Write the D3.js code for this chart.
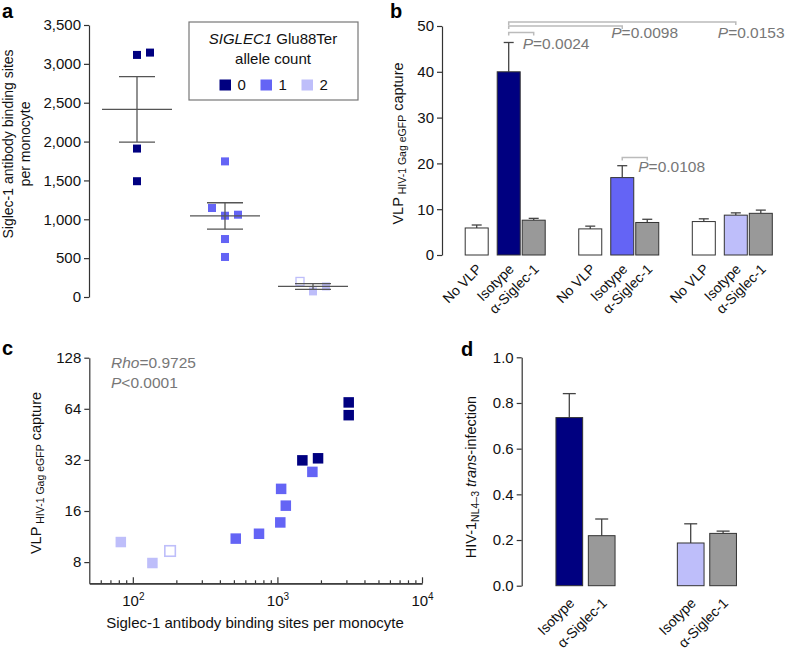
<!DOCTYPE html>
<html><head><meta charset="utf-8">
<script src="https://cdn.jsdelivr.net/npm/d3@7"></script>
<style>
body{margin:0;background:#fff;}
svg{font-family:"Liberation Sans",Arial,Helvetica,sans-serif;}
</style></head><body>
<svg id="chart" width="788" height="651"></svg>
<script>
// ---------------- DATA ----------------
const alleleCounts = ["0", "1", "2"];

// panel a: Siglec-1 antibody binding sites per monocyte, by allele count
const bindingSites0 = [3115, 3145, 1910, 1490];
const bindingSites1 = [1745, 1046, 1059, 1145, 746, 515];
const bindingSites2 = [72, 136, 200];
const bindingOpen2 = [false, false, true];
const siteTicks = [0, 500, 1000, 1500, 2000, 2500, 3000, 3500];

// panel b: VLP capture
const captureConditions = ["No VLP", "Isotype", "α-Siglec-1"];
const captureMean0 = [5.9, 40.0, 7.6];
const captureMean1 = [5.7, 16.9, 7.1];
const captureMean2 = [7.3, 8.7, 9.1];
const captureErr0 = [0.65, 6.4, 0.4];
const captureErr1 = [0.6, 2.6, 0.7];
const captureErr2 = [0.6, 0.5, 0.7];
const captureTicks = [0, 10, 20, 30, 40, 50];
const captureP = ["0.0024", "0.0098", "0.0153", "0.0108"];

// panel c: correlation
const corrSites0 = [1488, 1910, 3112, 3112];
const corrCapture0 = [31.8, 32.7, 69.8, 58.7];
const corrSites1 = [515, 746, 1047, 1143, 1061, 1745];
const corrCapture1 = [11.0, 11.75, 13.7, 17.2, 21.6, 27.2];
const corrSites2 = [82.6, 136.6, 181];
const corrCapture2 = [10.5, 7.9, 9.3];
const corrOpen2 = [false, false, true];
const corrYTicks = [8, 16, 32, 64, 128];
const corrXTicks = [100, 1000, 10000];
const corrRho = "0.9725";
const corrP = "0.0001";

// panel d: trans-infection
const transGroups = ["0", "2"];
const transConditions = ["Isotype", "α-Siglec-1"];
const transMean0 = [0.736, 0.219];
const transMean2 = [0.187, 0.229];
const transErr0 = [0.105, 0.073];
const transErr2 = [0.084, 0.010];
const transTicks = [0, 0.2, 0.4, 0.6, 0.8, 1.0];

// ---------------- STYLE ----------------
const FONT = "Liberation Sans, Arial, Helvetica, sans-serif";
const AXC = "#333";
const color = d3.scaleOrdinal(alleleCounts, ["#000080", "#6464f5", "#bebefa"]);
const GRAY = "#999999";
const ANNO = "#777";
const svg = d3.select("#chart");

function styleAxis(g, fs = 15) {
  g.attr("font-size", fs).attr("font-family", FONT);
  g.selectAll("path,line").attr("stroke", AXC).attr("stroke-width", 1.2);
  g.selectAll("text").attr("fill", "#111");
}
function panelLabel(t, x, y) {
  svg.append("text").attr("x", x).attr("y", y).attr("font-size", 20)
    .attr("font-weight", "bold").attr("fill", "#000").text(t);
}

// ---------------- PANEL A ----------------
panelLabel("a", 2, 18);
const yA = d3.scaleLinear().domain([0, 3500]).range([297, 25]);
const xA = d3.scalePoint().domain(alleleCounts).range([137, 313]);
svg.append("g").attr("transform", "translate(89,0)")
  .call(d3.axisLeft(yA).tickValues(siteTicks).tickFormat(d3.format(",")).tickSize(5).tickSizeOuter(0).tickPadding(3))
  .call(styleAxis);

svg.append("text").attr("transform", "translate(13,144) rotate(-90)")
  .attr("text-anchor", "middle").attr("font-size", 14).attr("fill", "#111")
  .text("Siglec-1 antibody binding sites");
svg.append("text").attr("transform", "translate(30,144) rotate(-90)")
  .attr("text-anchor", "middle").attr("font-size", 14).attr("fill", "#111")
  .text("per monocyte");

function dodge(values, y, step = 13, thr = 11) {
  const placed = [];
  return values.map(v => {
    const py = y(v);
    let off = 0;
    for (const c of [0, step, -step, 2 * step, -2 * step]) {
      if (!placed.some(p => Math.abs(p.y - py) < thr && Math.abs(p.x - c) < thr)) { off = c; break; }
    }
    placed.push({ x: off, y: py });
    return off;
  });
}

const groupsA = [
  { key: "0", vals: bindingSites0, open: bindingSites0.map(() => false) },
  { key: "1", vals: bindingSites1, open: bindingSites1.map(() => false) },
  { key: "2", vals: bindingSites2, open: bindingOpen2 }
];
const gA = svg.append("g");
groupsA.forEach(gr => {
  const cx = xA(gr.key);
  const n = gr.vals.length;
  const mean = d3.mean(gr.vals);
  const sem = d3.deviation(gr.vals) / Math.sqrt(n);
  const offs = dodge(gr.vals, yA);
  const sz = 8;
  gr.vals.forEach((v, i) => {
    gA.append("rect")
      .attr("x", cx + offs[i] - sz / 2).attr("y", yA(v) - sz / 2)
      .attr("width", sz).attr("height", sz)
      .attr("fill", gr.open[i] ? "#fff" : color(gr.key))
      .attr("stroke", gr.open[i] ? color(gr.key) : "none")
      .attr("stroke-width", 1.3);
  });
  const lc = "#555";
  gA.append("line").attr("x1", cx - 35).attr("x2", cx + 35).attr("y1", yA(mean)).attr("y2", yA(mean)).attr("stroke", lc).attr("stroke-width", 1.3);
  gA.append("line").attr("x1", cx).attr("x2", cx).attr("y1", yA(mean - sem)).attr("y2", yA(mean + sem)).attr("stroke", lc).attr("stroke-width", 1.3);
  [mean - sem, mean + sem].forEach(v => {
    gA.append("line").attr("x1", cx - 18).attr("x2", cx + 18).attr("y1", yA(v)).attr("y2", yA(v)).attr("stroke", lc).attr("stroke-width", 1.3);
  });
});

// legend
const lg = svg.append("g");
lg.append("rect").attr("x", 189).attr("y", 22).attr("width", 169).attr("height", 78)
  .attr("fill", "#fff").attr("stroke", "#777").attr("stroke-width", 1.2);
const lt1 = lg.append("text").attr("x", 273).attr("y", 44).attr("text-anchor", "middle").attr("font-size", 15).attr("fill", "#111");
lt1.append("tspan").attr("font-style", "italic").text("SIGLEC1");
lt1.append("tspan").text(" Glu88Ter");
lg.append("text").attr("x", 273).attr("y", 63.5).attr("text-anchor", "middle").attr("font-size", 15).attr("fill", "#111").text("allele count");
const xLeg = d3.scalePoint().domain(alleleCounts).range([219.5, 301.5]);
alleleCounts.forEach(k => {
  lg.append("rect").attr("x", xLeg(k)).attr("y", 79.5).attr("width", 11.5).attr("height", 11).attr("fill", color(k));
  lg.append("text").attr("x", xLeg(k) + 18).attr("y", 90).attr("font-size", 15).attr("fill", "#111").text(k);
});

// ---------------- PANEL B ----------------
panelLabel("b", 390, 18);
const yB = d3.scaleLinear().domain([0, 50]).range([255, 26]);
const xBg = d3.scalePoint().domain(alleleCounts).range([476.7, 703.8]);
const xBc = d3.scaleOrdinal().domain(captureConditions).range([0, 32, 57]);
const bwB = 23;
svg.append("g").attr("transform", "translate(442,0)")
  .call(d3.axisLeft(yB).tickValues(captureTicks).tickSize(5).tickSizeOuter(0).tickPadding(3))
  .call(styleAxis);

const ylb = svg.append("text").attr("transform", "translate(403,143.5) rotate(-90)")
  .attr("text-anchor", "middle").attr("font-size", 14.5).attr("fill", "#111");
ylb.append("tspan").text("VLP");
ylb.append("tspan").attr("font-size", 10.5).attr("dy", 3).text(" HIV-1 Gag eGFP");
ylb.append("tspan").attr("dy", -3).text(" capture");

const capMeans = [captureMean0, captureMean1, captureMean2];
const capErrs = [captureErr0, captureErr1, captureErr2];
const gB = svg.append("g");
alleleCounts.forEach((k, gi) => {
  captureConditions.forEach((c, ci) => {
    const cx = xBg(k) + xBc(c);
    const m = capMeans[gi][ci], e = capErrs[gi][ci];
    const fill = ci === 0 ? "#fff" : (ci === 1 ? color(k) : GRAY);
    gB.append("line").attr("x1", cx).attr("x2", cx).attr("y1", yB(m)).attr("y2", yB(m + e)).attr("stroke", "#444").attr("stroke-width", 1.3);
    gB.append("line").attr("x1", cx - 5).attr("x2", cx + 5).attr("y1", yB(m + e)).attr("y2", yB(m + e)).attr("stroke", "#444").attr("stroke-width", 1.3);
    gB.append("rect").attr("x", cx - bwB / 2).attr("y", yB(m)).attr("width", bwB).attr("height", yB(0) - yB(m))
      .attr("fill", fill).attr("stroke", "#333").attr("stroke-width", 1);
    svg.append("text").attr("transform", `translate(${cx + 6},270) rotate(-45)`)
      .attr("text-anchor", "end").attr("font-size", 14).attr("fill", "#111").text(c);
  });
});

// significance brackets
function bracket(x1, x2, yv) {
  const y = yB(yv);
  gB.append("path").attr("d", `M${x1},${y + 3}V${y}H${x2}V${y + 3}`)
    .attr("fill", "none").attr("stroke", "#bbb").attr("stroke-width", 1.5);
}
function pText(x, y, val) {
  const t = svg.append("text").attr("x", x).attr("y", y).attr("font-size", 15.5).attr("fill", ANNO);
  t.append("tspan").attr("font-style", "italic").text("P");
  t.append("tspan").text("=" + val);
}
const iso0 = xBg("0") + xBc("Isotype");
const sig0 = xBg("0") + xBc("α-Siglec-1");
const iso1 = xBg("1") + xBc("Isotype");
const sig1 = xBg("1") + xBc("α-Siglec-1");
const iso2 = xBg("2") + xBc("Isotype");
bracket(iso0, sig0, 48.6);
bracket(iso0, iso1, 50.0);
bracket(iso0, iso2, 50.9);
bracket(iso1, sig1, 21.3);
pText(sig0 - 11, 49, captureP[0]);
pText(iso1 - 11, 38, captureP[1]);
pText(iso2 - 18, 38, captureP[2]);
pText(sig1 - 9, 172, captureP[3]);

// ---------------- PANEL C ----------------
panelLabel("c", 2, 355);
const xC = d3.scaleLog().domain([50, 10000]).range([89.3, 422]);
const yC = d3.scaleLog().base(2).domain([6, 128]).range([583.3, 357.7]);
svg.append("g").attr("transform", "translate(89.3,0)")
  .call(d3.axisLeft(yC).tickValues(corrYTicks).tickFormat(d3.format("d")).tickSize(5).tickSizeOuter(0).tickPadding(3))
  .call(styleAxis);
const minorTicks = [];
for (let dec = 10; dec < 10000; dec *= 10) for (let m = 2; m <= 9; m++) {
  const v = dec * m; if (v > 50 && v < 10000) minorTicks.push(v);
}
svg.append("g").attr("transform", "translate(0,583.3)")
  .call(d3.axisBottom(xC).tickValues(minorTicks).tickFormat("").tickSize(-3).tickSizeOuter(0))
  .call(styleAxis);
const xAxC = svg.append("g").attr("transform", "translate(0,583.3)")
  .call(d3.axisBottom(xC).tickValues(corrXTicks).tickSize(-6).tickSizeOuter(0).tickPadding(12))
  .call(styleAxis);
xAxC.selectAll(".tick text").each(function (d) {
  const t = d3.select(this);
  t.text("");
  t.append("tspan").text("10");
  t.append("tspan").attr("font-size", 10).attr("dy", -6).text(String(Math.round(Math.log10(d))));
});
svg.append("text").attr("x", 255).attr("y", 628).attr("text-anchor", "middle").attr("font-size", 15).attr("fill", "#111")
  .text("Siglec-1 antibody binding sites per monocyte");
const ylc = svg.append("text").attr("transform", "translate(41,473) rotate(-90)")
  .attr("text-anchor", "middle").attr("font-size", 14.5).attr("fill", "#111");
ylc.append("tspan").text("VLP");
ylc.append("tspan").attr("font-size", 10.5).attr("dy", 3).text(" HIV-1 Gag eGFP");
ylc.append("tspan").attr("dy", -3).text(" capture");

const rt = svg.append("text").attr("x", 111).attr("y", 368).attr("font-size", 15.5).attr("fill", ANNO);
rt.append("tspan").attr("font-style", "italic").text("Rho");
rt.append("tspan").text("=" + corrRho);
const pt = svg.append("text").attr("x", 111).attr("y", 388).attr("font-size", 15.5).attr("fill", ANNO);
pt.append("tspan").attr("font-style", "italic").text("P");
pt.append("tspan").text("<" + corrP);

const corrGroups = [
  { key: "2", xs: corrSites2, ys: corrCapture2, open: corrOpen2 },
  { key: "1", xs: corrSites1, ys: corrCapture1, open: corrSites1.map(() => false) },
  { key: "0", xs: corrSites0, ys: corrCapture0, open: corrSites0.map(() => false) }
];
const gC = svg.append("g");
corrGroups.forEach(gr => {
  gr.xs.forEach((xv, i) => {
    const s = 10.5;
    gC.append("rect").attr("x", xC(xv) - s / 2).attr("y", yC(gr.ys[i]) - s / 2).attr("width", s).attr("height", s)
      .attr("fill", gr.open[i] ? "#fff" : color(gr.key))
      .attr("stroke", gr.open[i] ? color(gr.key) : "none").attr("stroke-width", 1.6);
  });
});

// ---------------- PANEL D ----------------
panelLabel("d", 461, 356);
const yD = d3.scaleLinear().domain([0, 1]).range([585.7, 357.3]);
const xDg = d3.scalePoint().domain(transGroups).range([569.3, 690.7]);
const xDc = d3.scaleOrdinal().domain(transConditions).range([0, 32.4]);
const bwD = 26.7;
svg.append("g").attr("transform", "translate(521.7,0)")
  .call(d3.axisLeft(yD).tickValues(transTicks).tickFormat(d3.format(".1f")).tickSize(5).tickSizeOuter(0).tickPadding(3))
  .call(styleAxis);
const yld = svg.append("text").attr("transform", "translate(476,477) rotate(-90)")
  .attr("text-anchor", "middle").attr("font-size", 14.5).attr("fill", "#111");
yld.append("tspan").text("HIV-1");
yld.append("tspan").attr("font-size", 10.5).attr("dy", 3).text("NL4–3");
yld.append("tspan").attr("dy", -3).text(" ");
yld.append("tspan").attr("font-style", "italic").text("trans");
yld.append("tspan").text("-infection");

const trMeans = [transMean0, transMean2];
const trErrs = [transErr0, transErr2];
const gD = svg.append("g");
transGroups.forEach((k, gi) => {
  transConditions.forEach((c, ci) => {
    const cx = xDg(k) + xDc(c);
    const m = trMeans[gi][ci], e = trErrs[gi][ci];
    const fill = ci === 0 ? color(k) : GRAY;
    gD.append("line").attr("x1", cx).attr("x2", cx).attr("y1", yD(m)).attr("y2", yD(m + e)).attr("stroke", "#444").attr("stroke-width", 1.3);
    gD.append("line").attr("x1", cx - 6.5).attr("x2", cx + 6.5).attr("y1", yD(m + e)).attr("y2", yD(m + e)).attr("stroke", "#444").attr("stroke-width", 1.3);
    gD.append("rect").attr("x", cx - bwD / 2).attr("y", yD(m)).attr("width", bwD).attr("height", yD(0) - yD(m))
      .attr("fill", fill).attr("stroke", "#333").attr("stroke-width", 1);
    svg.append("text").attr("transform", `translate(${cx + 6},604) rotate(-45)`)
      .attr("text-anchor", "end").attr("font-size", 14).attr("fill", "#111").text(c);
  });
});
</script>
</body></html>
